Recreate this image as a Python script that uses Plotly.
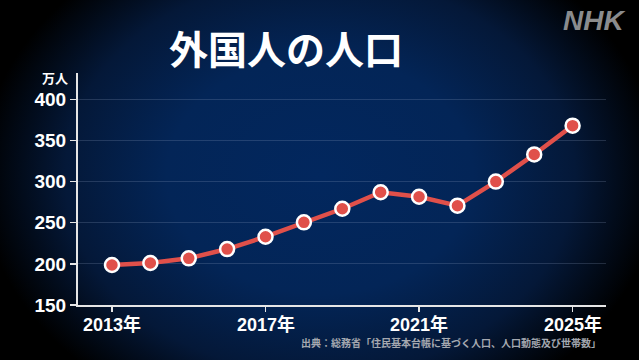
import plotly.graph_objects as go
import urllib.parse

years = [2013, 2014, 2015, 2016, 2017, 2018, 2019, 2020, 2021, 2022, 2023, 2024, 2025]
population = [198.6, 201.0, 206.7, 218.0, 233.0, 250.5, 267.0, 287.0, 281.6, 270.7, 300.0, 333.0, 368.0]
x_tickvals = [2013, 2017, 2021, 2025]
x_ticktext = ["2013年", "2017年", "2021年", "2025年"]
y_tickvals = [150, 200, 250, 300, 350, 400]

title_text = "外国人の人口"
unit_text = "万人"
source_text = "出典：総務省「住民基本台帳に基づく人口、人口動態及び世帯数」"
logo_text = "NHK"

W, H = 639, 360
L, R, T, B = 78, 33, 73, 55
PW, PH = W - L - R, H - T - B

def px(x):
    return (x - L) / PW

def py(y):
    return (H - B - y) / PH

svg = (
    '<svg xmlns="http://www.w3.org/2000/svg" width="639" height="360" viewBox="0 0 639 360" preserveAspectRatio="none">'
    '<defs><radialGradient id="g" cx="320" cy="175" r="340" gradientUnits="userSpaceOnUse" '
    'gradientTransform="translate(320 175) scale(1 0.78) translate(-320 -175)">'
    '<stop offset="0" stop-color="#02275e"/>'
    '<stop offset="0.45" stop-color="#032557"/>'
    '<stop offset="0.75" stop-color="#041838"/>'
    '<stop offset="1" stop-color="#000000"/>'
    '</radialGradient></defs>'
    '<rect width="639" height="360" fill="#000"/>'
    '<rect width="639" height="360" fill="url(#g)"/></svg>'
)
bg_uri = "data:image/svg+xml;charset=utf-8," + urllib.parse.quote(svg)

NUM_FONT = "Liberation Sans, Arial, Noto Sans CJK JP, sans-serif"
JP_FONT = "Noto Sans CJK JP, sans-serif"

fig = go.Figure()
fig.add_trace(go.Scatter(
    x=years, y=population, mode="lines+markers",
    line=dict(color="#e0504a", width=4.5),
    marker=dict(size=14, color="#e0504a", line=dict(color="white", width=2.5)),
    hoverinfo="skip", showlegend=False,
))

annotations = [
    dict(text=title_text, xref="paper", yref="paper", x=px(286), y=py(47),
         xanchor="center", yanchor="middle", showarrow=False,
         font=dict(family=JP_FONT, size=39, color="white", weight="bold")),
    dict(text=unit_text, xref="paper", yref="paper", x=px(55), y=py(77),
         xanchor="center", yanchor="middle", showarrow=False,
         font=dict(family=JP_FONT, size=13, color="white", weight="bold")),
    dict(text=logo_text, xref="paper", yref="paper", x=px(594), y=py(20),
         xanchor="center", yanchor="middle", showarrow=False,
         font=dict(family=NUM_FONT, size=28, color="#8a8c8e", weight="bold", style="italic")),
    dict(text=source_text, xref="paper", yref="paper", x=px(603), y=py(342),
         xanchor="right", yanchor="middle", showarrow=False,
         font=dict(family=JP_FONT, size=10, color="#a4a8b0", weight="bold")),
]
for xv, xt in zip(x_tickvals, x_ticktext):
    annotations.append(dict(
        text=xt, xref="x", yref="paper", x=xv, y=py(324),
        xanchor="center", yanchor="middle", showarrow=False,
        font=dict(family=NUM_FONT, size=18, color="white", weight="bold"),
    ))

fig.update_layout(
    width=W, height=H,
    margin=dict(l=L, r=R, t=T, b=B, pad=0),
    paper_bgcolor="#000000",
    plot_bgcolor="rgba(0,0,0,0)",
    images=[dict(
        source=bg_uri, xref="paper", yref="paper",
        x=px(0), y=py(0), sizex=W / PW, sizey=H / PH,
        xanchor="left", yanchor="top", sizing="stretch", layer="below",
    )],
    xaxis=dict(
        range=[2012.115, 2025.87], tickvals=x_tickvals, showticklabels=False,
        showgrid=False, zeroline=False,
        showline=True, linecolor="#e6e6e6", linewidth=2,
        ticks="outside", ticklen=5, tickwidth=1.5, tickcolor="#e6e6e6",
        fixedrange=True,
    ),
    yaxis=dict(
        range=[150, 432], tickvals=y_tickvals,
        showgrid=True, gridcolor="rgba(150,170,200,0.22)", gridwidth=1.2,
        zeroline=False,
        showline=True, linecolor="#e6e6e6", linewidth=2,
        ticks="outside", ticklen=6, tickwidth=1.5, tickcolor="#e6e6e6",
        tickfont=dict(family=NUM_FONT, size=19, color="white", weight="bold"),
        fixedrange=True,
    ),
    annotations=annotations,
)

fig.write_html(
    "out.html",
    config={"displayModeBar": False, "staticPlot": True},
    post_script="document.body.style.margin='0';document.body.style.overflow='hidden';document.body.style.background='#000';",
)
